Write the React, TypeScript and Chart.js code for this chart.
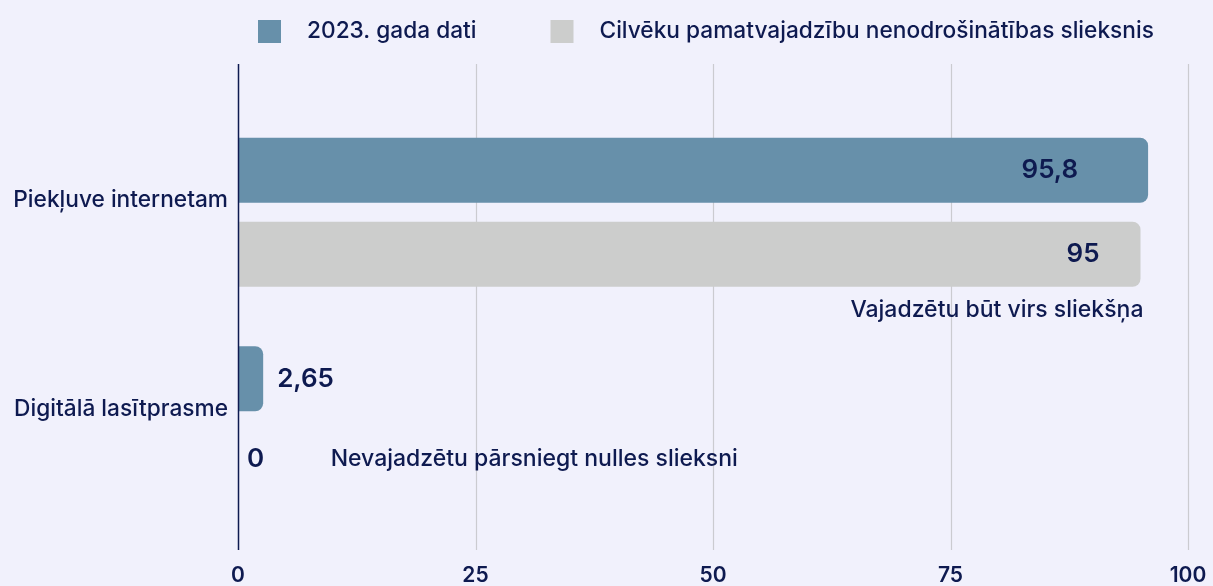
import React, { useEffect, useRef } from 'react';
import { Chart, registerables } from 'chart.js';

Chart.register(...registerables);

const categories = ['Piekļuve internetam', 'Digitālā lasītprasme'];
const seriesLabels = ['2023. gada dati', 'Cilvēku pamatvajadzību nenodrošinātības slieksnis'];
const actualValues = [95.8, 2.65];
const thresholdValues = [95, 0];
const xTicks = [0, 25, 50, 75, 100];
const notes = [
  { text: 'Vajadzētu būt virs sliekšņa', category: 0, value: 95, where: 'below' },
  { text: 'Nevajadzētu pārsniegt nulles slieksni', category: 1, value: 9.75, where: 'beside' },
];

const BG = '#f1f1fc';
const NAVY = '#0e1a50';
const BLUE = '#6790aa';
const GRAY = '#cccdcc';
const GRID = '#cbcbd0';
const FONT = 'Inter, "Noto Sans", sans-serif';

const fmt = (v: number) => String(v).replace('.', ',');

const bgPlugin = {
  id: 'bg',
  beforeDraw(chart: any) {
    const { ctx, width, height } = chart;
    ctx.save();
    ctx.fillStyle = BG;
    ctx.fillRect(0, 0, width, height);
    ctx.restore();
  },
};

const gridPlugin = {
  id: 'customGrid',
  beforeDatasetsDraw(chart: any) {
    const { ctx, chartArea } = chart;
    const xs = chart.scales.x;
    const top = chartArea.top - 44;
    const bottom = chartArea.bottom + 25;
    ctx.save();
    ctx.strokeStyle = GRID;
    ctx.lineWidth = 1.2;
    xTicks.forEach((v) => {
      if (v === 0) return;
      const px = Math.round(xs.getPixelForValue(v)) + 0.5;
      ctx.beginPath();
      ctx.moveTo(px, top);
      ctx.lineTo(px, bottom);
      ctx.stroke();
    });
    ctx.restore();
  },
  afterDatasetsDraw(chart: any) {
    const { ctx, chartArea } = chart;
    const xs = chart.scales.x;
    const top = chartArea.top - 44;
    const bottom = chartArea.bottom + 25;
    const px = xs.getPixelForValue(0) + 0.5;
    ctx.save();
    ctx.strokeStyle = NAVY;
    ctx.lineWidth = 1.5;
    ctx.beginPath();
    ctx.moveTo(px, top);
    ctx.lineTo(px, bottom);
    ctx.stroke();
    ctx.restore();
  },
};

const insideOffsets = [70, 41];

const labelsPlugin = {
  id: 'valueLabels',
  afterDatasetsDraw(chart: any) {
    const { ctx } = chart;
    const xs = chart.scales.x;
    ctx.save();
    ctx.fillStyle = NAVY;
    ctx.textBaseline = 'middle';
    ctx.font = `600 26px ${FONT}`;
    chart.data.datasets.forEach((ds: any, d: number) => {
      const meta = chart.getDatasetMeta(d);
      meta.data.forEach((bar: any, i: number) => {
        const v = ds.data[i];
        if (v >= 10) {
          ctx.textAlign = 'right';
          ctx.fillText(fmt(v), bar.x - insideOffsets[d], bar.y);
        } else {
          ctx.textAlign = 'left';
          ctx.fillText(fmt(v), bar.x + (v === 0 ? 9 : 14), bar.y - (v === 0 ? 4 : 0));
        }
      });
    });
    ctx.font = `500 23px ${FONT}`;
    notes.forEach((n) => {
      const bar: any = chart.getDatasetMeta(1).data[n.category];
      const px = xs.getPixelForValue(n.value);
      if (n.where === 'below') {
        ctx.textAlign = 'right';
        ctx.fillText(n.text, px + 3, bar.y + bar.height / 2 + 23);
      } else {
        ctx.textAlign = 'left';
        ctx.fillText(n.text, px, bar.y - 4);
      }
    });
    ctx.restore();
  },
};

const legendPlugin = {
  id: 'customLegend',
  afterDraw(chart: any) {
    const { ctx, chartArea } = chart;
    let x = chartArea.left + 20;
    const boxTop = 20;
    const box = 23;
    ctx.save();
    ctx.font = `500 22.7px ${FONT}`;
    ctx.textBaseline = 'middle';
    ctx.textAlign = 'left';
    chart.data.datasets.forEach((ds: any) => {
      ctx.fillStyle = ds.backgroundColor;
      ctx.fillRect(x, boxTop, box, box);
      x += box + 26;
      ctx.fillStyle = NAVY;
      ctx.fillText(ds.label, x, boxTop + box / 2);
      x += ctx.measureText(ds.label).width + 74;
    });
    ctx.restore();
  },
};

export default function App() {
  const ref = useRef<HTMLCanvasElement>(null);
  useEffect(() => {
    document.body.style.margin = '0';
    document.body.style.background = BG;
    const chart = new Chart(ref.current as HTMLCanvasElement, {
      type: 'bar',
      data: {
        labels: categories,
        datasets: [
          {
            label: seriesLabels[0],
            data: actualValues,
            backgroundColor: BLUE,
            borderRadius: 8,
            borderSkipped: 'start',
            barPercentage: 0.774,
            categoryPercentage: 0.806,
          },
          {
            label: seriesLabels[1],
            data: thresholdValues,
            backgroundColor: GRAY,
            borderRadius: 8,
            borderSkipped: 'start',
            barPercentage: 0.774,
            categoryPercentage: 0.806,
          },
        ],
      },
      options: {
        indexAxis: 'y',
        responsive: false,
        animation: false,
        layout: { padding: { top: 108, right: 25, left: 0, bottom: 0 } },
        plugins: { legend: { display: false }, tooltip: { enabled: false } },
        scales: {
          x: {
            min: 0,
            max: 100,
            afterBuildTicks: (s: any) => {
              s.ticks = xTicks.map((v) => ({ value: v }));
            },
            grid: { display: false, drawTicks: false },
            border: { display: false },
            ticks: { color: NAVY, font: { family: FONT, size: 21, weight: '600' }, padding: 38 },
            afterFit: (s: any) => {
              s.height = 61;
              s.paddingLeft = 0;
              s.paddingRight = 0;
            },
          },
          y: {
            grid: { display: false, drawTicks: false },
            border: { display: false },
            ticks: { color: NAVY, font: { family: FONT, size: 22.7, weight: '500' }, padding: 10, labelOffset: -12 },
            afterFit: (s: any) => {
              s.width = 238;
              s.paddingTop = 0;
              s.paddingBottom = 0;
            },
          },
        },
      } as any,
      plugins: [bgPlugin, gridPlugin, labelsPlugin, legendPlugin],
    });
    return () => chart.destroy();
  }, []);
  return <canvas ref={ref} width={1213} height={586} style={{ display: 'block' }} />;
}
